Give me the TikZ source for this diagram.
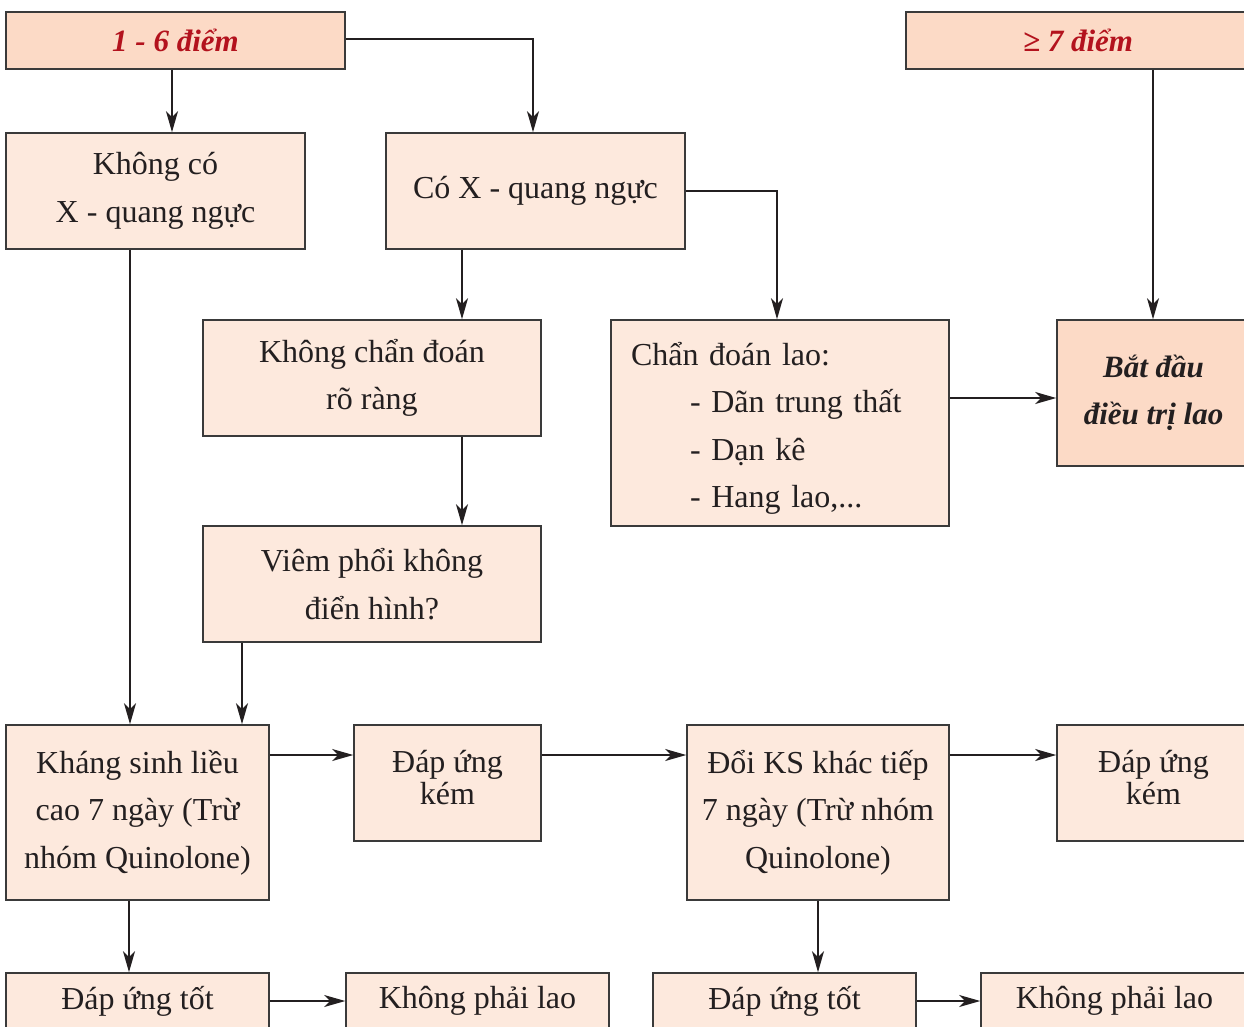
\documentclass[tikz,border=0pt]{standalone}
\usepackage{fontspec}
\setmainfont{Liberation Serif}
\usetikzlibrary{arrows.meta}
\definecolor{boxfill}{HTML}{FDE9DD}
\definecolor{headfill}{HTML}{FCDAC6}
\definecolor{headred}{HTML}{B3121D}
\definecolor{edgegray}{HTML}{3A3A3A}
\definecolor{ink}{HTML}{231F20}
\begin{document}
\begin{tikzpicture}[x=1pt,y=-1pt,
  box/.style={draw=edgegray, line width=1.6pt, fill=boxfill, inner sep=0pt,
    align=center, text=ink, font=\fontsize{32}{47.5}\selectfont},
  head/.style={box, fill=headfill},
  tight/.style={font=\fontsize{32}{32}\selectfont},
  arr/.style={draw=ink, line width=1.5pt,
    -{Stealth[length=21pt,width=12pt,inset=6pt]}}]
\useasboundingbox (0,0) rectangle (1244,1026);
\clip (0,0) rectangle (1244,1026);
\fill[white] (0,0) rectangle (1244,1026);

% header boxes
\node[head, minimum width=339, minimum height=57, text=headred,
  font=\fontsize{31}{47}\selectfont\bfseries\itshape] (h1) at (175.5,40.5) {1 - 6 điểm};
\node[head, minimum width=344, minimum height=57, text=headred,
  font=\fontsize{31}{47}\selectfont\bfseries\itshape] (h2) at (1078,40.5) {≥ 7 điểm};

% chest X-ray branch
\node[box, minimum width=299, minimum height=116] (nox) at (155.5,191) {Không có\\X - quang ngực};
\node[box, minimum width=299, minimum height=116] (hasx) at (535.5,191) {Có X - quang ngực};
\node[box, minimum width=338, minimum height=116] (unclear) at (372,378) {Không chẩn đoán\\rõ ràng};
\node[box, minimum width=338, minimum height=206, text width=298, inner xsep=20pt, align=left] (diag) at (780,423)
  {\rule{0pt}{34pt}Chẩn đoán lao:\\\hspace*{59pt}- Dãn trung thất\\\hspace*{59pt}- Dạn kê\\\hspace*{59pt}- Hang lao,...};
\node[head, minimum width=193, minimum height=146, text=ink,
  font=\fontsize{31}{47}\selectfont\bfseries\itshape] (treat) at (1153.5,393) {Bắt đầu\\điều trị lao};
\node[box, minimum width=338, minimum height=116] (pneu) at (372,584) {Viêm phổi không\\điển hình?};

% antibiotic trials
\node[box, minimum width=263, minimum height=175] (abx) at (137.5,812.5) {Kháng sinh liều\\cao 7 ngày (Trừ\\nhóm Quinolone)};
\node[box, tight, minimum width=187, minimum height=116] (poor1) at (447.5,783) {Đáp ứng\\kém\rule[-12pt]{0pt}{0pt}};
\node[box, minimum width=262, minimum height=175] (abx2) at (818,812.5) {Đổi KS khác tiếp\\7 ngày (Trừ nhóm\\Quinolone)};
\node[box, tight, minimum width=193, minimum height=116] (poor2) at (1153.5,783) {Đáp ứng\\kém\rule[-12pt]{0pt}{0pt}};

% outcomes
\node[box, minimum width=263, minimum height=56] (good1) at (137.5,1001) {Đáp ứng tốt};
\node[box, minimum width=263, minimum height=56] (nottb1) at (477.5,1001) {Không phải lao};
\node[box, minimum width=263, minimum height=56] (good2) at (784.5,1001) {Đáp ứng tốt};
\node[box, minimum width=267, minimum height=56] (nottb2) at (1114.5,1001) {Không phải lao};

% guide coordinates for connector positions
\coordinate (x172) at (172,0);
\coordinate (x533) at (533,0);
\coordinate (x1153) at (1153,0);
\coordinate (x462) at (462,0);
\coordinate (x130) at (130,0);
\coordinate (x242) at (242,0);
\coordinate (x129) at (129,0);
\coordinate (x818) at (818,0);
\coordinate (x777) at (777,0);
\coordinate (y39) at (0,39);
\coordinate (y755) at (0,755);
\coordinate (y398) at (0,398);

% connectors
\draw[arr] (h1.south -| x172) -- (nox.north -| x172);
\draw[arr] (h1.east |- y39) -| (hasx.north -| x533);
\draw[arr] (h2.south -| x1153) -- (treat.north -| x1153);
\draw[arr] (hasx.east) -| (diag.north -| x777);
\draw[arr] (hasx.south -| x462) -- (unclear.north -| x462);
\draw[arr] (unclear.south -| x462) -- (pneu.north -| x462);
\draw[arr] (nox.south -| x130) -- (abx.north -| x130);
\draw[arr] (pneu.south -| x242) -- (abx.north -| x242);
\draw[arr] (abx.east |- y755) -- (poor1.west |- y755);
\draw[arr] (poor1.east |- y755) -- (abx2.west |- y755);
\draw[arr] (abx2.east |- y755) -- (poor2.west |- y755);
\draw[arr] (diag.east |- y398) -- (treat.west |- y398);
\draw[arr] (abx.south -| x129) -- (good1.north -| x129);
\draw[arr] (good1.east) -- (nottb1.west);
\draw[arr] (abx2.south -| x818) -- (good2.north -| x818);
\draw[arr] (good2.east) -- (nottb2.west);
\end{tikzpicture}
\end{document}
